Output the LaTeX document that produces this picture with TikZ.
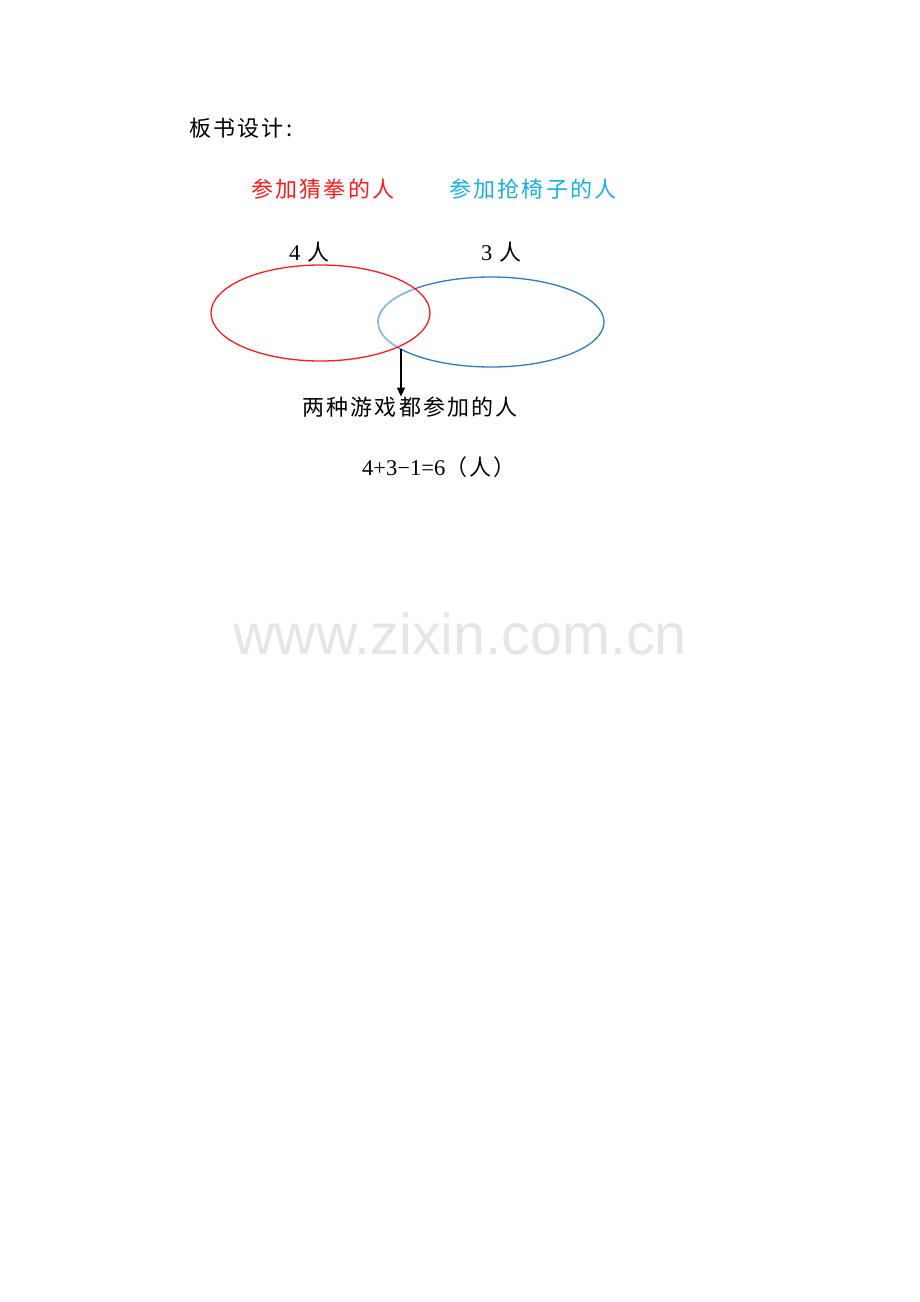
\documentclass[tikz,border=0pt]{standalone}
\usepackage{fontspec}
\setmainfont{Liberation Serif}
\newfontfamily\cjk[LetterSpace=10]{Noto Sans CJK SC}
\newfontfamily\wmfont{Liberation Sans}
\usetikzlibrary{arrows.meta,shapes.geometric}
\definecolor{redc}{HTML}{FF1A1A}
\definecolor{bluec}{HTML}{2E7CC6}
\definecolor{lightbluec}{HTML}{8CC0E8}
\definecolor{cyanc}{HTML}{1AAEE8}
\definecolor{wmgray}{HTML}{E6E6E6}
\newcommand{\digits}[1]{{\rmfamily\fontsize{22.5}{22.5}\selectfont #1}}
\tikzset{
  txt/.style={inner sep=0pt, anchor=west, font=\cjk\fontsize{22}{22}\selectfont},
  wm/.style={inner sep=0pt, anchor=west, font=\wmfont\fontsize{57.5}{57.5}\selectfont, text=wmgray},
  setline/.style={line width=1.3pt},
  setshape/.style={shape=ellipse, inner sep=0pt, setline},
}
\begin{document}
\begin{tikzpicture}[x=1pt,y=-1pt]
\useasboundingbox[fill=white] (0,0) rectangle (920,1302);
% texts
\node[txt] (title) at (189,128) {板书设计:};
\node[txt, text=redc] (lbla) at (251,189) {参加猜拳的人};
\node[txt, text=cyanc] (lblb) at (449,189) {参加抢椅子的人};
\node[txt] (na) at (289,252) {\digits{4}\hspace{7pt}人};
\node[txt] (nb) at (481,252) {\digits{3}\hspace{7pt}人};
% sets
\node[setshape, draw=bluec, minimum width=226pt, minimum height=90pt] (setb) at (491,322) {};
\begin{scope}
  \clip (320.5,313) ellipse [x radius=109.5, y radius=48];
  \draw[setline, lightbluec] (491,322) ellipse [x radius=113, y radius=45];
\end{scope}
\node[setshape, draw=redc, minimum width=219pt, minimum height=96pt] (seta) at (320.5,313) {};
% intersection label
\node[txt] (both) at (302,407) {两种游戏都参加的人};
\coordinate (cross) at (401,349);
\draw[line width=1.3pt, -{Triangle[length=9pt,width=8pt]}] (cross) -- (cross |- both.north);
% equation
\node[txt] (eq) at (362,467) {\digits{4+3−1=6}（人）};
% watermark
\node[wm] (mark) at (233,634) {www.zixin.com.cn};
\end{tikzpicture}
\end{document}
